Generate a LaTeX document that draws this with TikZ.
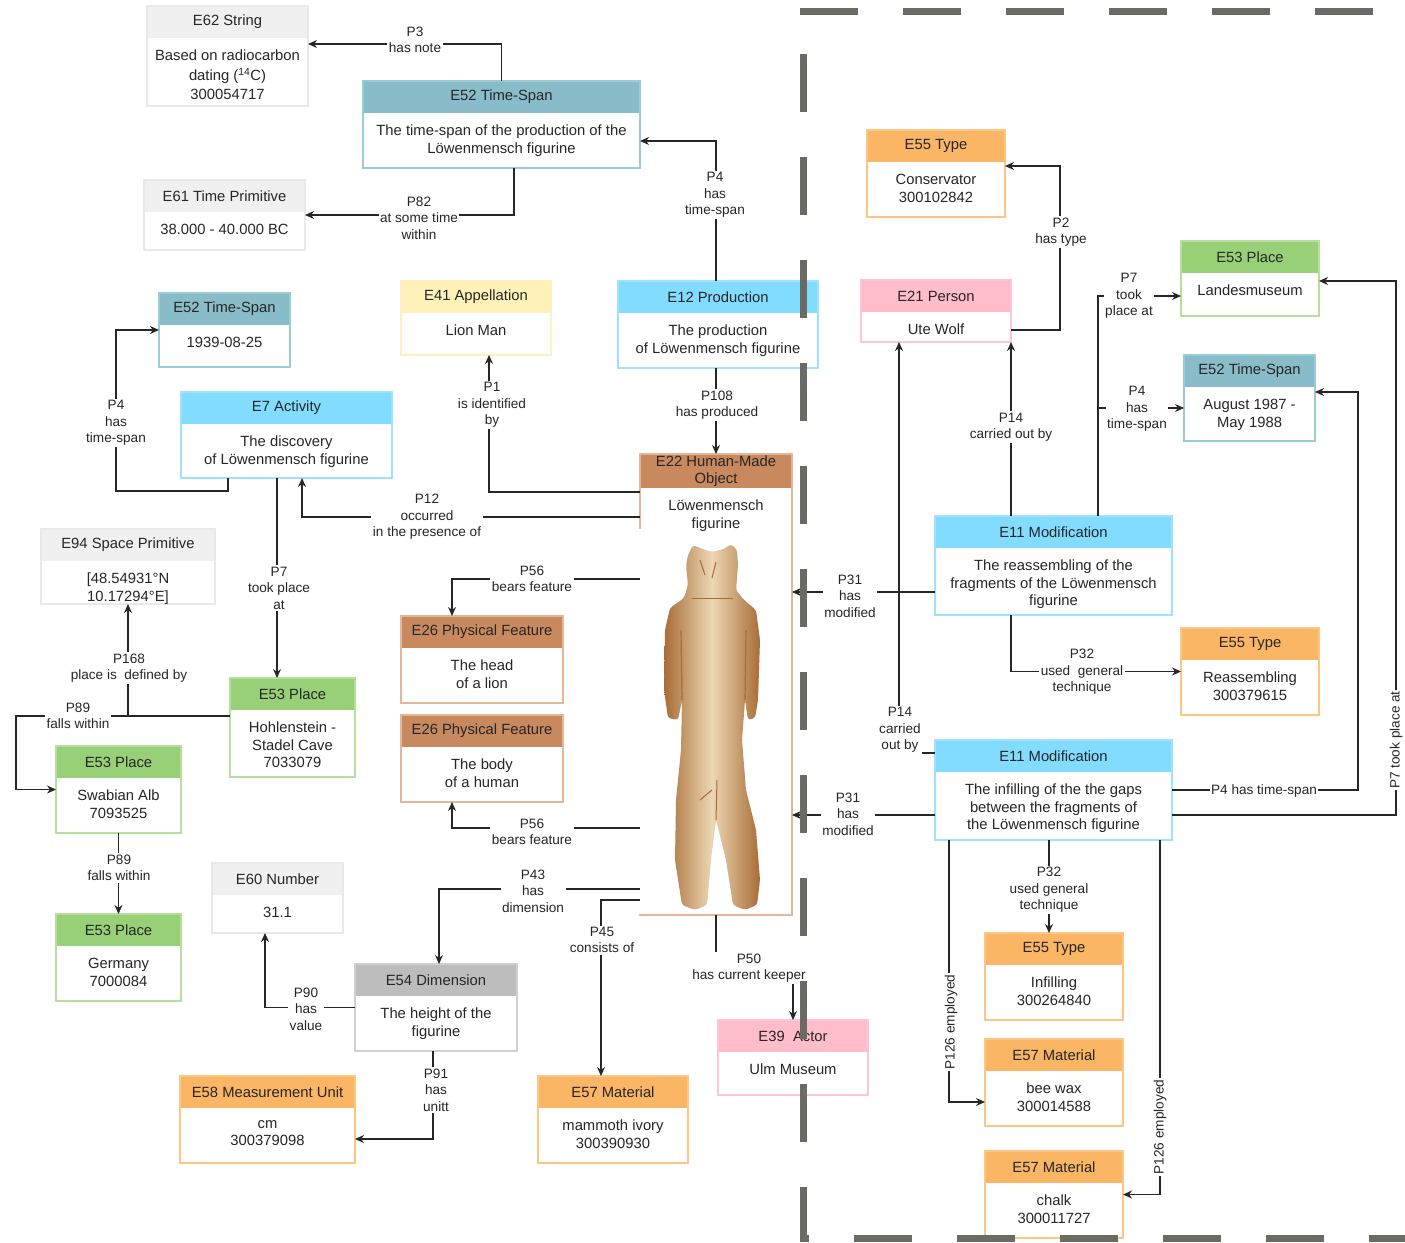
\documentclass[tikz,border=0pt]{standalone}
\usepackage{fontspec}
\setmainfont{Liberation Sans}
\usetikzlibrary{arrows.meta,fit,calc}

\definecolor{hgray}{HTML}{F0F0F0}\definecolor{bgray}{HTML}{E9E9E9}
\definecolor{hteal}{HTML}{88BCC8}\definecolor{bteal}{HTML}{9CCAD5}
\definecolor{hblue}{HTML}{82DCFF}\definecolor{bblue}{HTML}{9EE2FF}
\definecolor{hyel}{HTML}{FFF2B8}\definecolor{byel}{HTML}{FFF0C4}
\definecolor{hbrown}{HTML}{C8895E}\definecolor{bbrown}{HTML}{E3B797}
\definecolor{hgreen}{HTML}{97D077}\definecolor{bgreen}{HTML}{B5DE9F}
\definecolor{hora}{HTML}{FAB565}\definecolor{bora}{HTML}{FCC685}
\definecolor{hpink}{HTML}{FFBCCB}\definecolor{bpink}{HTML}{FFC5D2}
\definecolor{hdgray}{HTML}{BDBDBD}\definecolor{bdgray}{HTML}{D0D0D0}
\definecolor{framegray}{HTML}{6B6B63}
\definecolor{figdark}{HTML}{A86C36}
\definecolor{figlight}{HTML}{ECD7B4}

\newcommand\boxfont{\fontsize{14.8}{17.5}\selectfont}
\newcommand\lblfont{\fontsize{13.6}{16.5}\selectfont}

\tikzset{
  txt/.style={font=\boxfont, align=center, inner sep=0pt, text=black!85},
  lbl/.style={font=\lblfont, align=center, inner sep=1.5pt, fill=white, text=black!85},
  link/.style={draw=black!85, line width=1.3pt, -{Stealth[length=9pt,width=8pt]}},
  frame/.style={draw=framegray, line width=7pt, dash pattern=on 58pt off 45pt}
}

\def\hh{32pt}
\def\entity#1[#2](#3)(#4)#5#6{%
  \path (#3) coordinate (#1-nw) (#4) coordinate (#1-se);
  \node[inner sep=0pt, outer sep=0pt, fill=white, fit=(#1-nw)(#1-se)] (#1) {};
  \fill[h#2] (#1.north west) rectangle ([yshift=-\hh]#1.north east);
  \draw[b#2, line width=1.2pt] (#1.north west) rectangle (#1.south east);
  \node[txt] at ([yshift=-\hh/2]#1.north) {#5};
  \node[txt, anchor=north] at ([yshift=-\hh-12pt]#1.north) {#6};
}

\begin{document}
\begin{tikzpicture}[x=1pt, y=-1pt]
		%%%%% START %%%%%
		\useasboundingbox (0,0) rectangle (1405,1242);

		\entity{str}[gray](147,6)(308,106){E62 String}{Based on radiocarbon\\[2.5pt]dating (\textsuperscript{14}C)\\[1.5pt]300054717}
		\entity{ts}[teal](363,81)(640,168){E52 Time-Span}{The time-span of the production of the\\Löwenmensch figurine}
		\entity{tp}[gray](144,180)(305,250){E61 Time Primitive}{38.000 - 40.000 BC}
		\entity{tsd}[teal](159,293)(290,367){E52 Time-Span}{1939-08-25}
		\entity{app}[yel](401,281)(551,355){E41 Appellation}{Lion Man}
		\entity{prod}[blue](618,281)(818,368){E12 Production}{The production\\of Löwenmensch figurine}
		\entity{act}[blue](181,392)(392,478){E7 Activity}{The discovery\\of Löwenmensch figurine}
		\def\hh{34pt}
		\entity{obj}[brown](640,454)(792,915){E22 Human-Made\\Object}{Löwenmensch\\figurine}
		\def\hh{32pt}
		\entity{spc}[gray](41,529)(215,604){E94 Space Primitive}{[48.54931°N\\10.17294°E]}
		\entity{head}[brown](401,616)(563,703){E26 Physical Feature}{The head\\of a lion}
		\entity{body}[brown](401,715)(563,802){E26 Physical Feature}{The body\\of a human}
		\entity{cave}[green](230,678)(355,777){E53 Place}{Hohlenstein -\\Stadel Cave\\7033079}
		\entity{alb}[green](56,746)(181,833){E53 Place}{Swabian Alb\\7093525}
		\entity{ger}[green](56,914)(181,1001){E53 Place}{Germany\\7000084}
		\entity{num}[gray](212,863)(343,933){E60 Number}{31.1}
		\entity{dim}[dgray](355,964)(517,1051){E54 Dimension}{The height of the\\figurine}
		\entity{unit}[ora](180,1076)(355,1163){E58 Measurement Unit}{cm\\300379098}
		\entity{ivory}[ora](538,1076)(688,1163){E57 Material}{mammoth ivory\\300390930}
		\entity{keeper}[pink](718,1020)(868,1095){E39~~Actor}{Ulm Museum}

		\entity{cons}[ora](867,130)(1005,217){E55 Type}{Conservator\\300102842}
		\entity{pers}[pink](861,280)(1011,342){E21 Person}{Ute Wolf}
		\entity{lmus}[green](1181,241)(1319,316){E53 Place}{Landesmuseum}
		\entity{tsr}[teal](1184,355)(1315,441){E52 Time-Span}{August 1987 -\\May 1988}
		\entity{mod1}[blue](935,516)(1172,615){E11 Modification}{The reassembling of the\\fragments of the Löwenmensch\\figurine}
		\entity{tech1}[ora](1181,628)(1319,715){E55 Type}{Reassembling\\300379615}
		\entity{mod2}[blue](935,740)(1172,840){E11 Modification}{The infilling of the the gaps\\between the fragments of\\the Löwenmensch figurine}
		\entity{tech2}[ora](985,933)(1123,1020){E55 Type}{Infilling\\300264840}
		\entity{wax}[ora](985,1039)(1123,1126){E57 Material}{bee wax\\300014588}
		\entity{chalk}[ora](985,1151)(1123,1238){E57 Material}{chalk\\300011727}

		% the figurine
		\fill[white] (638.5,529) rectangle (641.5,913.5);
		\shade[left color=figdark, right color=figdark, middle color=figlight, rounded corners=3pt]
			(688,555) -- (693,545) -- (700,548) -- (712,552) -- (724,549) -- (731,544) -- (737,550)
			-- (738,565) -- (736,590) -- (744,600) -- (756,610) -- (760,640) -- (758,700) -- (755,718)
			-- (748,720) -- (745,700) -- (742,740) -- (746,790) -- (756,830) -- (760,880) -- (757,905)
			-- (745,910) -- (733,905) -- (726,860) -- (716,820) -- (711,860) -- (707,905) -- (695,910)
			-- (682,905) -- (675,860) -- (676,800) -- (681,750) -- (682,700) -- (678,720) -- (668,718)
			-- (664,690) -- (665,630) -- (670,608) -- (684,598) -- (688,585) -- (686,565) -- cycle;
		\draw[figdark, line width=1.2pt] (682,700) -- (681,630);
		\draw[figdark, line width=1.2pt] (745,700) -- (746,630);
		\draw[figdark, line width=1pt] (692,598) -- (733,598);
		\draw[figdark, line width=1pt] (700,560) -- (705,575) (716,562) -- (712,578);
		\draw[figdark, line width=1pt] (716,820) -- (717,780) (700,800) -- (712,790);

		% links
		\draw[link] (ts.north) |- ([yshift=12pt]str.east);
		\draw[link] ([xshift=12.5pt]ts.south) |- (tp.east);
		\draw[link] ([xshift=-2pt]prod.north) |- ([yshift=-16.5pt]ts.east);
		\draw[link] ([xshift=-2pt]prod.south) -- (obj.north);
		\draw[link] ([yshift=-38pt]obj.north west) -| ([xshift=13pt]app.south);
		\draw[link] ([yshift=-63pt]obj.north west) -| ([xshift=15.5pt]act.south);
		\draw[link] ([xshift=-58.5pt]act.south) -- ++(0,13) -| ([xshift=-43pt]tsd.west) -- (tsd.west);
		\draw[link] ([xshift=-9.5pt]act.south) -- ([xshift=-15.5pt]cave.north);
		\draw[link] ([yshift=11.5pt]cave.west) -| (spc.south);
		\draw[link] ([yshift=11.5pt]cave.west) -- ++(-214,0) |- (alb.west);
		\draw[link] (alb.south) -- (ger.north);
		\draw[link] ([yshift=-125pt]obj.north west) -| ([xshift=-30pt]head.north);
		\draw[link] ([yshift=-374pt]obj.north west) -| ([xshift=-30pt]body.south);
		\draw[link] ([yshift=-435pt]obj.north west) -| ([xshift=3pt]dim.north);
		\draw[link] ([yshift=-446pt]obj.north west) -| ([xshift=-12pt]ivory.north);
		\draw[link] (obj.south) -- ++(0,61) -| (keeper.north);
		\draw[link] (dim.west) -| ([xshift=-12.5pt]num.south);
		\draw[link] ([xshift=-3pt]dim.south) |- ([yshift=-19.5pt]unit.east);

		\draw[link] ([yshift=-19pt]pers.east) -- ++(49,0) |- ([yshift=7.5pt]cons.east);
		\draw[link] ([xshift=-42.5pt]mod1.north) -- (pers.south east);
		\draw[link] ([yshift=-13pt]mod2.north west) -| ([xshift=-37pt]pers.south);
		\draw[link] ([xshift=44.5pt]mod1.north) |- ([yshift=-17.5pt]lmus.west);
		\draw[link] ([xshift=44.5pt]mod1.north) |- ([yshift=-10pt]tsr.west);
		\draw[link] ([yshift=-26.5pt]mod1.west) -- ++(-143,0);
		\draw[link] ([yshift=-25pt]mod2.west) -- ++(-143,0);
		\draw[link] ([xshift=-42.5pt]mod1.south) |- (tech1.west);
		\draw[link] (mod2.east) -- ++(186,0) |- ([yshift=6pt]tsr.east);
		\draw[link] ([yshift=-25pt]mod2.east) -- ++(224,0) |- ([yshift=-2.5pt]lmus.east);
		\draw[link] ([xshift=-4.5pt]mod2.south) -- ([xshift=-5pt]tech2.north);
		\draw[link] ([xshift=-104.5pt]mod2.south) |- ([yshift=-19.5pt]wax.west);
		\draw[link] ([xshift=106.5pt]mod2.south) |- (chalk.east);

		% labels
		\node[lbl] (l1) at (415,40) {P3\\has note};
		\node[lbl] (l2) at (419,218) {P82\\at some time\\within};
		\node[lbl] (l3) at (715,195) {P4\\has\\time-span};
		\node[lbl] (l4) at (717,405) {P108\\has produced};
		\node[lbl] (l5) at (492,405) {P1\\is identified\\by};
		\node[lbl] (l6) at (427,517) {P12\\occurred\\in the presence of};
		\node[lbl] (l7) at (116,423) {P4\\has\\time-span};
		\node[lbl] (l8) at (279,588) {P7\\took place\\at};
		\node[lbl] (l9) at (129,668) {P168\\place is~ defined by};
		\node[lbl] (l10) at (78,716) {P89\\falls within};
		\node[lbl] (l11) at (119,868) {P89\\falls within};
		\node[lbl] (l12) at (532,579) {P56\\bears feature};
		\node[lbl] (l13) at (532,832) {P56\\bears feature};
		\node[lbl] (l14) at (533,891) {P43\\has\\dimension};
		\node[lbl] (l15) at (602,940) {P45\\consists of};
		\node[lbl] (l16) at (749,968) {P50\\has current keeper};
		\node[lbl] (l17) at (306,1009) {P90\\has\\value};
		\node[lbl] (l18) at (436,1090) {P91\\has\\unitt};
		\node[lbl] (l19) at (1061,232) {P2\\has type};
		\node[lbl] (l20) at (1011,427) {P14\\carried out by};
		\node[lbl] (l21) at (900,730) {P14\\carried\\out by};
		\node[lbl] (l22) at (1129,296) {P7\\took\\place at};
		\node[lbl] (l23) at (1137,409) {P4\\has\\time-span};
		\node[lbl] (l24) at (850,596) {P31\\has\\modified};
		\node[lbl] (l25) at (848,814) {P31\\has\\modified};
		\node[lbl] (l26) at (1082,672) {P32\\used~ general\\technique};
		\node[lbl] (l27) at (1264,791) {P4 has time-span};
		\node[lbl, rotate=90] (l28) at (1396,740) {P7 took place at};
		\node[lbl] (l29) at (1049,890) {P32\\used general\\technique};
		\node[lbl, rotate=90] (l30) at (951,1022) {P126 employed};
		\node[lbl, rotate=90] (l31) at (1160,1127) {P126 employed};

		% dashed border
		\draw[frame] (800,11) -- (1405,11);
		\draw[frame, dash phase=60pt] (803,11) -- (803,1238);
		\draw[frame, dash phase=49pt] (800,1238.5) -- (1405,1238.5);
		%%%%% END %%%%%
\end{tikzpicture}
\end{document}
